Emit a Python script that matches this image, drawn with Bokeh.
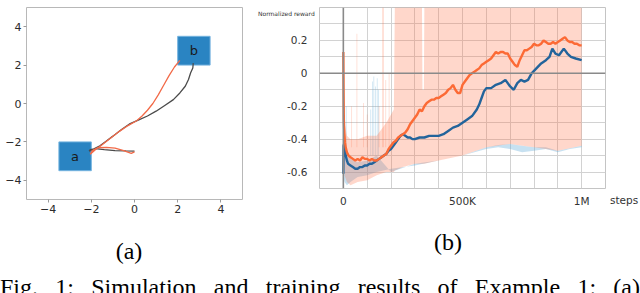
from bokeh.plotting import figure
from bokeh.models import Range1d, FixedTicker, Span, Div
from bokeh.layouts import column, row
from bokeh.embed import file_html
from bokeh.resources import INLINE

# ---------------- Panel (a) data ----------------
box_names = ["a", "b"]
box_left = [-3.5, 2.0]
box_right = [-2.0, 3.5]
box_bottom = [-3.5, 2.0]
box_top = [-2.0, 3.5]
box_text_x = [-2.75, 2.75]
box_text_y = [-2.75, 2.75]

gray_x = [0.0, -0.4, -0.9, -1.4, -1.8, -2.05, -2.1, -1.9, -1.6, -1.3, -1.0, -0.6, -0.2, 0.2,
          0.6, 1.0, 1.4, 1.8, 2.1, 2.35, 2.5, 2.6, 2.7, 2.72]
gray_y = [-2.48, -2.47, -2.45, -2.4, -2.35, -2.4, -2.48, -2.38, -2.2, -1.95, -1.7, -1.35, -1.05, -0.85,
          -0.65, -0.4, -0.1, 0.2, 0.55, 0.9, 1.25, 1.6, 1.85, 2.1]
orange_x = [0.0, -0.15, -0.5, -0.9, -1.3, -1.7, -1.95, -2.05, -1.8, -1.5, -1.1, -0.7, -0.3, 0.1,
            0.35, 0.6, 0.85, 1.1, 1.35, 1.6, 1.85, 2.1]
orange_y = [-2.52, -2.6, -2.45, -2.32, -2.28, -2.3, -2.45, -2.65, -2.4, -2.15, -1.8, -1.45, -1.15, -0.9,
            -0.65, -0.35, 0.0, 0.45, 0.95, 1.45, 1.9, 2.25]

a_ticks = [-4, -2, 0, 2, 4]
a_tick_labels = ["\u22124", "\u22122", "0", "2", "4"]

# ---------------- Panel (b) data ----------------
K = 1000
orange_steps = [0, 1, 2, 4, 7, 10, 15, 22, 30, 40, 50, 60, 70, 80, 90, 100, 110, 120, 130, 140, 150,
                160, 170, 180, 190, 200, 210, 220, 230, 240, 250, 260, 270, 280, 290, 300, 310, 320,
                330, 340, 350, 360, 370, 380, 390, 400, 410, 420, 430, 440, 450, 460, 470, 480, 490,
                500, 510, 520, 530, 540, 550, 560, 570, 580, 590, 600, 610, 620, 630, 640, 650, 660,
                670, 680, 690, 700, 710, 720, 730, 740, 750, 760, 770, 780, 790, 800, 810, 820, 830,
                840, 850, 860, 870, 880, 890, 900, 910, 920, 930, 940, 950, 960, 970, 980, 990, 1000]
orange_smooth = [0.13, -0.1, -0.28, -0.36, -0.42, -0.45, -0.48, -0.50, -0.51, -0.52, -0.53, -0.52,
                 -0.53, -0.51, -0.52, -0.52, -0.53, -0.52, -0.53, -0.53, -0.52, -0.51, -0.50, -0.49,
                 -0.46, -0.44, -0.42, -0.41, -0.39, -0.38, -0.37, -0.36, -0.34, -0.31, -0.29, -0.27,
                 -0.25, -0.22, -0.23, -0.20, -0.18, -0.17, -0.16, -0.16, -0.15, -0.15, -0.14, -0.13,
                 -0.12, -0.10, -0.09, -0.07, -0.10, -0.12, -0.12, -0.07, -0.05, -0.03, -0.01, 0.00,
                 0.01, 0.02, 0.03, 0.05, 0.06, 0.07, 0.08, 0.09, 0.11, 0.13, 0.12, 0.13, 0.13, 0.12,
                 0.12, 0.09, 0.07, 0.05, 0.04, 0.08, 0.11, 0.14, 0.14, 0.15, 0.16, 0.18, 0.17, 0.17,
                 0.18, 0.20, 0.19, 0.18, 0.18, 0.19, 0.18, 0.19, 0.20, 0.21, 0.22, 0.20, 0.19, 0.19,
                 0.18, 0.18, 0.17, 0.17]
blue_steps = [0, 1, 3, 6, 10, 15, 20, 30, 40, 50, 60, 70, 80, 90, 100, 110, 120, 130, 140, 150, 160,
              170, 180, 190, 200, 210, 220, 230, 240, 250, 260, 270, 280, 290, 300, 320, 340, 360, 380,
              400, 420, 440, 460, 480, 500, 520, 540, 560, 570, 580, 590, 600, 620, 640, 660, 680, 700,
              715, 730, 745, 760, 775, 790, 810, 830, 850, 865, 877, 890, 905, 925, 940, 955, 975, 1000]
blue_smooth = [-0.61, -0.44, -0.43, -0.46, -0.50, -0.53, -0.55, -0.56, -0.57, -0.58, -0.58, -0.57,
               -0.57, -0.56, -0.56, -0.55, -0.55, -0.54, -0.53, -0.52, -0.51, -0.50, -0.49, -0.47,
               -0.46, -0.44, -0.42, -0.40, -0.38, -0.37, -0.38, -0.39, -0.39, -0.40, -0.40, -0.39,
               -0.39, -0.38, -0.38, -0.38, -0.37, -0.35, -0.33, -0.32, -0.30, -0.28, -0.26, -0.22,
               -0.19, -0.15, -0.11, -0.09, -0.09, -0.07, -0.06, -0.04, -0.08, -0.10, -0.06, -0.04,
               -0.05, -0.04, 0.00, 0.03, 0.06, 0.08, 0.10, 0.15, 0.12, 0.11, 0.15, 0.12, 0.10, 0.09, 0.08]

# raw (unsmoothed) envelopes
pink_steps = [0, 5, 15, 30, 60, 100, 140, 180, 200, 212, 216, 250, 300, 330, 332, 338, 340, 400, 500,
              600, 700, 800, 900, 1000]
pink_low = [-0.5, -0.62, -0.66, -0.68, -0.66, -0.65, -0.62, -0.60, -0.60, -0.60, -0.59, -0.57, -0.55,
            -0.55, -0.55, -0.55, -0.55, -0.53, -0.50, -0.45, -0.43, -0.45, -0.47, -0.44]
pink_high = [0.13, -0.30, -0.38, -0.40, -0.40, -0.38, -0.38, -0.30, -0.25, -0.22, 0.40, 0.40, 0.40,
             0.40, -0.10, -0.10, 0.40, 0.40, 0.40, 0.40, 0.40, 0.40, 0.40, 0.40]
pink_spike_steps = [35, 57, 85, 100, 150, 165, 168, 178, 192]
pink_spike_top = [-0.20, 0.24, -0.18, -0.25, -0.20, 0.40, 0.40, -0.04, 0.00]

blue_steps_raw = [0, 5, 15, 30, 60, 100, 140, 200, 300, 400, 500, 600, 650, 700, 750, 800, 850, 900,
                  950, 1000]
blue_low = [-0.62, -0.66, -0.68, -0.66, -0.63, -0.62, -0.60, -0.58, -0.56, -0.53, -0.50, -0.46,
            -0.45, -0.46, -0.48, -0.47, -0.46, -0.48, -0.46, -0.45]
blue_high = [-0.43, -0.45, -0.50, -0.52, -0.54, -0.53, -0.50, -0.60, -0.55, -0.53, -0.50, -0.45,
             -0.435, -0.43, -0.44, -0.45, -0.45, -0.47, -0.455, -0.44]
blue_spike_steps = [12, 115, 122, 128, 135, 142, 148]
blue_spike_top = [-0.20, -0.22, -0.05, -0.02, -0.08, -0.03, -0.10]

b_xticks = [0, 500 * K, 1000 * K]
b_xtick_labels = ["0", "500K", "1M"]
b_yticks = [-0.6, -0.4, -0.2, 0.0, 0.2]
b_ytick_labels = ["-0.6", "-0.4", "-0.2", "0", "0.2"]
b_ylabel = "Normalized reward"
b_xlabel = "steps"

label_a = "(a)"
label_b = "(b)"
caption = "Fig. 1: Simulation and training results of Example 1: (a)"

# ---------------- Figure (a) ----------------
fa = figure(frame_width=216, frame_height=192, title=None, output_backend="svg", toolbar_location=None,
            x_range=Range1d(-5, 5), y_range=Range1d(-5, 5),
            min_border_left=26, min_border_right=8, min_border_top=3, min_border_bottom=31)
fa.grid.visible = False
fa.outline_line_color = "#b8b8b8"
fa.outline_line_width = 1
for ax in (fa.xaxis[0], fa.yaxis[0]):
    ax.ticker = FixedTicker(ticks=a_ticks)
    ax.major_label_overrides = dict(zip(a_ticks, a_tick_labels))
    ax.axis_line_color = None
    ax.major_tick_out = 3
    ax.major_tick_in = 0
    ax.major_tick_line_color = "#9a9a9a"
    ax.minor_tick_line_color = None
    ax.major_label_text_font = "DejaVu Sans"
    ax.major_label_text_font_size = "11px"
    ax.major_label_text_color = "#2b2b2b"
    ax.major_label_standoff = 2

fa.quad(left=box_left, right=box_right, bottom=box_bottom, top=box_top,
        fill_color="#2a84c2", line_color="#74b3df", line_width=1)
fa.text(x=box_text_x, y=box_text_y, text=box_names, text_align="center", text_baseline="middle",
        text_font_size="13px", text_color="#1a1a1a", text_font={"value": "DejaVu Sans"})
fa.line(gray_x, gray_y, line_color="#4a4a4a", line_width=1.3)
fa.line(orange_x, orange_y, line_color="#f26a48", line_width=1.3)

# ---------------- Figure (b) ----------------
fb = figure(frame_width=286, frame_height=181, title=None, output_backend="svg", toolbar_location=None,
            x_range=Range1d(-100 * K, 1100 * K), y_range=Range1d(-0.7, 0.4),
            min_border_left=69, min_border_right=35, min_border_top=7, min_border_bottom=38)
fb.outline_line_color = "#c4c4c4"
fb.xgrid.ticker = FixedTicker(ticks=[i * 100 * K for i in range(-1, 12)])
fb.ygrid.ticker = FixedTicker(ticks=[round(-0.7 + 0.1 * i, 2) for i in range(12)])
fb.grid.grid_line_color = "#d2d2d2"
fb.grid.grid_line_width = 1
fb.xaxis.ticker = FixedTicker(ticks=b_xticks)
fb.xaxis.major_label_overrides = dict(zip(b_xticks, b_xtick_labels))
fb.yaxis.ticker = FixedTicker(ticks=b_yticks)
fb.yaxis.major_label_overrides = dict(zip(b_yticks, b_ytick_labels))
for ax in (fb.xaxis[0], fb.yaxis[0]):
    ax.axis_line_color = None
    ax.major_tick_line_color = None
    ax.minor_tick_line_color = None
    ax.major_tick_out = 0
    ax.major_tick_in = 0
    ax.major_label_text_font = "DejaVu Sans"
    ax.major_label_text_font_size = "10.5px"
    ax.major_label_text_color = "#333333"
fb.xaxis.major_label_standoff = 6
fb.yaxis.major_label_standoff = 12

bs = [s * K for s in blue_steps_raw]
fb.varea(x=bs, y1=blue_low, y2=blue_high, fill_color="#5fa8d6", fill_alpha=0.35)
fb.vbar(x=[s * K for s in blue_spike_steps], top=blue_spike_top, bottom=-0.5, width=3000,
        fill_color="#5fa8d6", fill_alpha=0.35, line_color=None)
ps = [s * K for s in pink_steps]
fb.varea(x=ps, y1=pink_low, y2=pink_high, fill_color="#ff6a3d", fill_alpha=0.27)
fb.vbar(x=[s * K for s in pink_spike_steps], top=pink_spike_top, bottom=-0.45, width=3000,
        fill_color="#ff6a3d", fill_alpha=0.27, line_color=None)

fb.add_layout(Span(location=0, dimension="width", line_color="#8a8a8a", line_width=1.6))
fb.add_layout(Span(location=0, dimension="height", line_color="#8a8a8a", line_width=1.6))

fb.line([s * K for s in blue_steps], blue_smooth, line_color="#23649b", line_width=2.4)
fb.line([s * K for s in orange_steps], orange_smooth, line_color="#fc6a35", line_width=2.4)

# ---------------- Caption / overlay texts ----------------
cap_html = (
    '<div style="position:relative;width:640px;height:67px;font-family:\'Liberation Serif\',serif;color:#000;overflow:visible;">'
    f'<div style="position:absolute;left:258px;top:-216px;font-family:\'DejaVu Sans\',sans-serif;font-size:6px;line-height:8px;color:#333;white-space:nowrap;">{b_ylabel}</div>'
    f'<div style="position:absolute;left:610px;top:-32px;font-family:\'DejaVu Sans\',sans-serif;font-size:10.5px;line-height:12px;color:#333;white-space:nowrap;">{b_xlabel}</div>'
    f'<div style="position:absolute;left:99px;top:11px;width:60px;text-align:center;font-size:24px;line-height:28px;">{label_a}</div>'
    f'<div style="position:absolute;left:418px;top:2px;width:60px;text-align:center;font-size:24px;line-height:28px;">{label_b}</div>'
    '<div style="position:absolute;left:0px;top:0px;width:640px;height:67px;overflow:hidden;">'
    f'<div style="position:absolute;left:0px;top:47px;width:640px;font-size:24px;line-height:28px;text-align:justify;text-align-last:justify;">{caption}</div>'
    '</div>'
    '</div>'
)
cap = Div(text=cap_html, width=640, height=67, margin=(0, 0, 0, 0))

layout = column(row(fa, fb), cap)
open("out.html", "w").write(file_html(layout, INLINE))
